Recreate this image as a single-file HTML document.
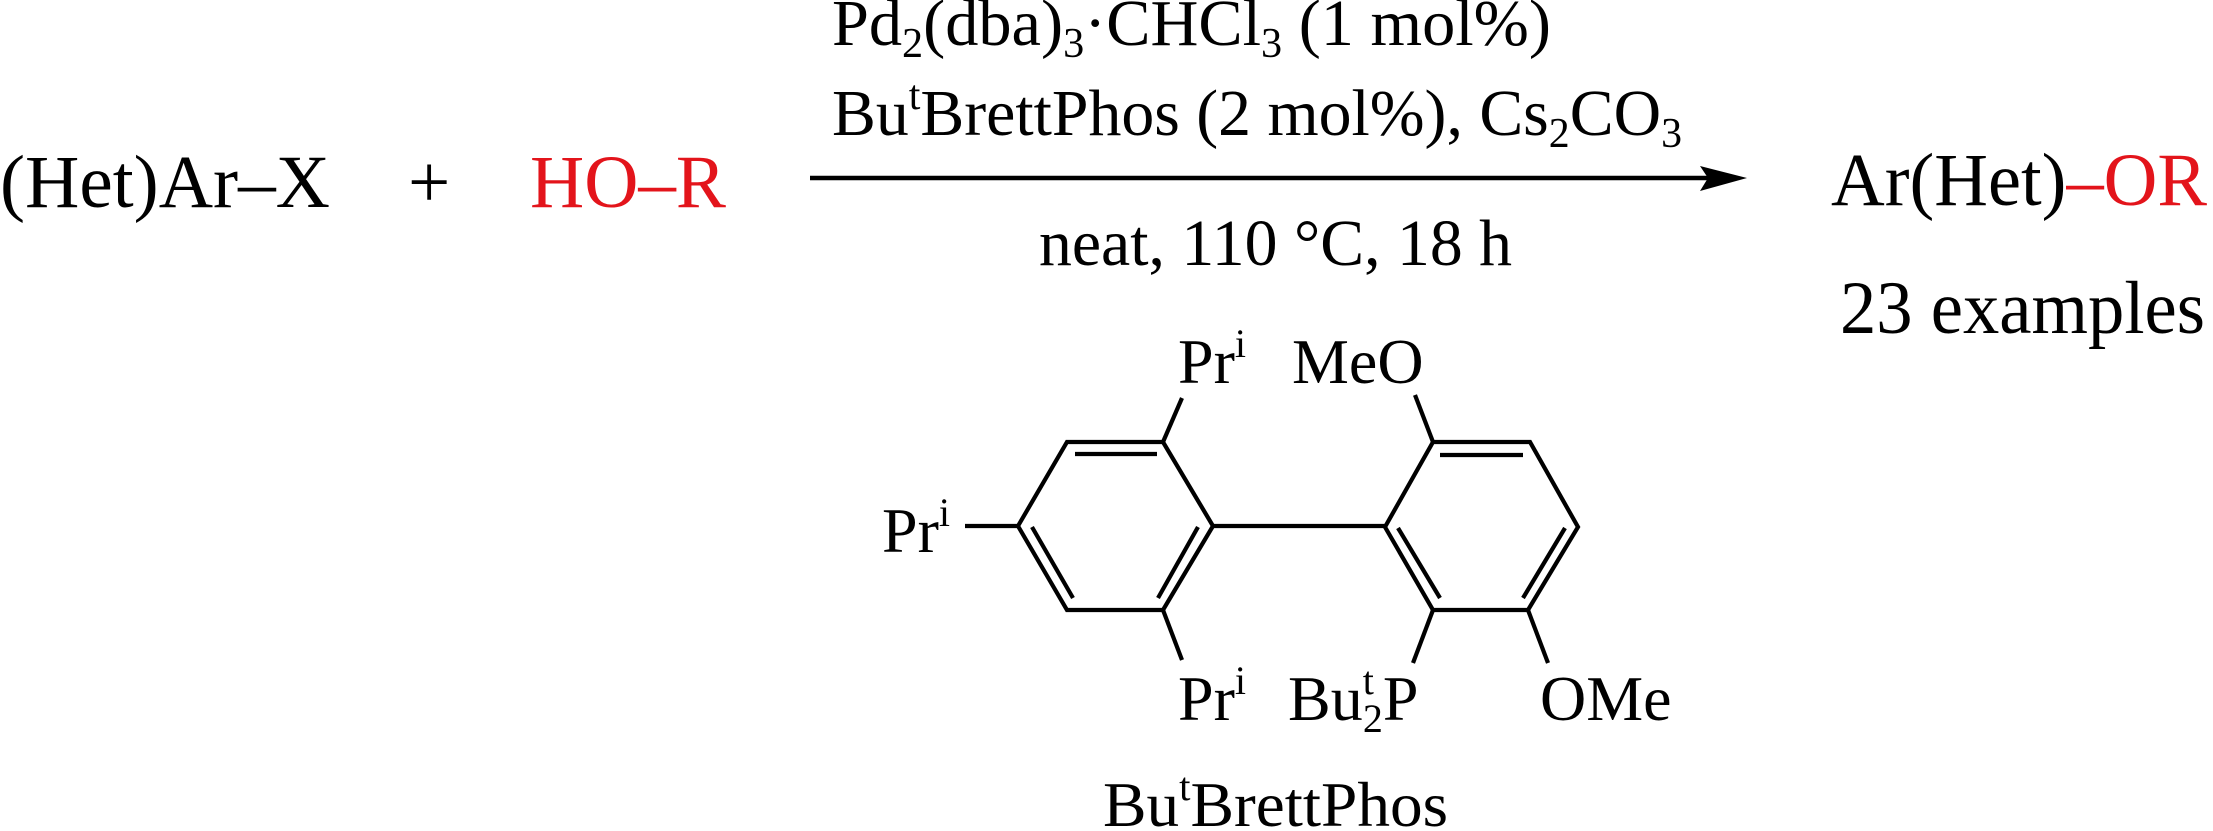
<!DOCTYPE html>
<html><head><meta charset="utf-8">
<style>
html,body{margin:0;padding:0;background:#fff;}
svg{display:block;}
text{font-family:"Liberation Serif","Times New Roman",serif;fill:#000;}
.r{fill:#e3141b;}
</style></head>
<body>
<svg width="2213" height="831" viewBox="0 0 2213 831" xmlns="http://www.w3.org/2000/svg">
<!-- reactants -->
<text x="0" y="207" font-size="75" textLength="330" lengthAdjust="spacingAndGlyphs">(Het)Ar–X</text>
<text x="408" y="207" font-size="75">+</text>
<text class="r" x="530" y="207" font-size="75" textLength="196" lengthAdjust="spacingAndGlyphs">HO–R</text>

<!-- conditions -->
<text x="832" y="45" font-size="66" textLength="719" lengthAdjust="spacingAndGlyphs">Pd<tspan font-size="42" dy="12">2</tspan><tspan dy="-12">(dba)</tspan><tspan font-size="42" dy="12">3</tspan><tspan dy="-12">·CHCl</tspan><tspan font-size="42" dy="12">3</tspan><tspan dy="-12"> (1 mol%)</tspan></text>
<text x="832" y="135" font-size="66" textLength="850" lengthAdjust="spacingAndGlyphs">Bu<tspan font-size="42" dy="-26">t</tspan><tspan dy="26">BrettPhos (2 mol%), Cs</tspan><tspan font-size="42" dy="12">2</tspan><tspan dy="-12">CO</tspan><tspan font-size="42" dy="12">3</tspan></text>
<text x="1039" y="265" font-size="66" textLength="473" lengthAdjust="spacingAndGlyphs">neat, 110 °C, 18 h</text>

<!-- arrow -->
<line x1="810" y1="178" x2="1712" y2="178" stroke="#000" stroke-width="4.5"/>
<polygon points="1700,166 1747,178 1700,191 1708,178" fill="#000"/>

<!-- product -->
<text x="1831" y="205" font-size="75" textLength="376" lengthAdjust="spacingAndGlyphs">Ar(Het)<tspan class="r">–OR</tspan></text>
<text x="1840" y="333" font-size="75" textLength="365" lengthAdjust="spacingAndGlyphs">23 examples</text>

<!-- structure -->
<g stroke="#000" stroke-width="4.2" fill="none" stroke-linecap="butt" stroke-linejoin="miter">
  <polygon points="1018,526 1067,442 1163,442 1213,526 1163,610 1067,610"/>
  <line x1="1075" y1="454" x2="1157" y2="454"/>
  <line x1="1032" y1="527" x2="1073" y2="598"/>
  <line x1="1198" y1="527" x2="1158" y2="598"/>
  <line x1="1163" y1="442" x2="1182" y2="398"/>
  <line x1="1018" y1="526" x2="965" y2="526"/>
  <line x1="1163" y1="610" x2="1182" y2="660"/>
  <line x1="1213" y1="526" x2="1385" y2="526"/>
  <polygon points="1385,527 1433,442 1530,442 1578,527 1528,610 1433,610"/>
  <line x1="1440" y1="455" x2="1523" y2="455"/>
  <line x1="1398" y1="528" x2="1440" y2="598"/>
  <line x1="1565" y1="528" x2="1523" y2="598"/>
  <line x1="1433" y1="442" x2="1415" y2="395"/>
  <line x1="1433" y1="610" x2="1413" y2="663"/>
  <line x1="1528" y1="610" x2="1548" y2="663"/>
</g>
<text x="1178" y="383" font-size="64">Pr<tspan font-size="40" dy="-26">i</tspan></text>
<text x="1292" y="383" font-size="64">MeO</text>
<text x="882" y="552" font-size="64">Pr<tspan font-size="40" dy="-26">i</tspan></text>
<text x="1178" y="720" font-size="64">Pr<tspan font-size="40" dy="-26">i</tspan></text>
<text x="1288" y="720" font-size="64">Bu<tspan font-size="40" dy="-26">t</tspan><tspan font-size="40" dx="-11" dy="38">2</tspan><tspan dy="-12">P</tspan></text>
<text x="1540" y="720" font-size="64">OMe</text>
<text x="1103" y="826" font-size="64" textLength="345" lengthAdjust="spacingAndGlyphs">Bu<tspan font-size="40" dy="-26">t</tspan><tspan dy="26">BrettPhos</tspan></text>
</svg>
</body></html>
